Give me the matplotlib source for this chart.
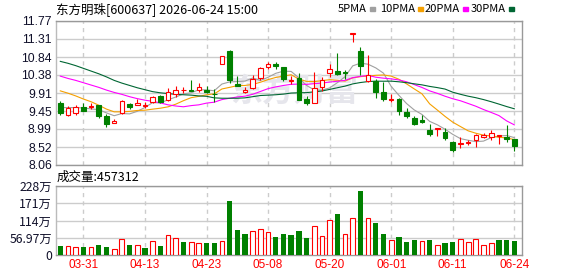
import matplotlib
matplotlib.use('Agg')
import matplotlib.pyplot as plt
import numpy as np

# ---- data (price in yuan, volume in 万) ----
opens = [9.66, 9.35, 9.40, 9.545, 9.56, 9.595, 9.33, 9.13, 9.39, 9.63,
         9.61, 9.59, 9.68, 9.84, 9.74, 9.88, 9.98, 9.997, 10.005, 9.997,
         9.90, 10.66, 11.00, 10.14, 9.937, 10.047, 10.30, 10.585, 10.66, 10.58,
         10.218, 10.30, 9.75, 9.663, 10.064, 10.42, 10.49, 10.465, 11.43, 11.00,
         10.226, 10.235, 9.937, 9.73, 9.766, 9.425, 9.26, 9.22, 8.964, 8.99,
         8.904, 8.657, 8.59, 8.62, 8.70, 8.79, 8.785, 8.80, 8.79, 8.725]
highs = [9.72, 9.58, 9.595, 9.67, 9.65, 9.61, 9.37, 9.24, 9.73, 9.67,
         9.75, 9.69, 9.83, 9.86, 10.05, 10.09, 10.065, 10.26, 10.16, 10.09,
         10.03, 10.875, 11.01, 10.36, 10.07, 10.37, 10.59, 10.71, 10.71, 10.58,
         10.345, 10.43, 9.85, 10.457, 10.33, 10.67, 10.94, 10.52, 11.455, 11.11,
         10.89, 10.28, 10.19, 9.90, 9.78, 9.52, 9.32, 9.35, 9.126, 9.007,
         9.024, 8.68, 8.77, 8.71, 8.87, 8.88, 8.97, 8.835, 9.084, 8.73]
lows = [9.36, 9.31, 9.34, 9.44, 9.51, 9.27, 9.04, 9.13, 9.37, 9.51,
        9.595, 9.53, 9.67, 9.665, 9.72, 9.82, 9.92, 9.96, 9.95, 9.92,
        9.68, 10.66, 10.175, 10.09, 9.92, 10.03, 10.26, 10.53, 10.53, 10.22,
        10.15, 9.73, 9.595, 9.663, 9.97, 10.33, 10.37, 10.27, 11.23, 10.37,
        10.21, 9.78, 9.70, 9.68, 9.36, 9.27, 9.085, 9.14, 8.81, 8.81,
        8.71, 8.40, 8.49, 8.57, 8.53, 8.76, 8.71, 8.59, 8.657, 8.43]
closes = [9.41, 9.535, 9.55, 9.44, 9.59, 9.32, 9.11, 9.19, 9.72, 9.545,
          9.65, 9.605, 9.82, 9.68, 9.945, 10.005, 10.005, 9.97, 10.06, 9.94,
          9.885, 10.875, 10.24, 10.107, 10.005, 10.277, 10.56, 10.65, 10.62, 10.28,
          10.243, 9.74, 9.663, 10.047, 10.25, 10.53, 10.41, 10.43, 11.45, 10.60,
          10.39, 9.937, 9.75, 9.75, 9.45, 9.33, 9.11, 9.17, 8.86, 9.007,
          8.76, 8.45, 8.62, 8.65, 8.83, 8.83, 8.895, 8.83, 8.717, 8.555]
volumes = [29.6, 29.6, 25.2, 26.3, 26.3, 32.9, 26.3, 19.7, 51.5, 32.9,
           31.8, 24.1, 46.0, 29.6, 64.6, 55.9, 43.8, 42.7, 39.4, 40.5,
           40.5, 46.0, 178.6, 82.2, 70.1, 77.8, 84.4, 75.6, 59.2, 70.1,
           65.7, 78.9, 57.0, 95.3, 62.5, 115.0, 135.9, 69.0, 123.8, 210.4,
           121.6, 106.3, 70.1, 49.3, 59.2, 43.8, 49.3, 46.0, 49.3, 31.8,
           39.4, 43.8, 51.5, 42.7, 51.5, 31.8, 39.4, 49.3, 49.3, 46.0]
vol_up = [0, 1, 1, 0, 1, 0, 0, 1, 1, 0, 1, 0, 1, 0, 1, 1, 0, 1, 1, 0,
          0, 1, 0, 0, 0, 1, 1, 1, 0, 0, 0, 0, 0, 1, 1, 1, 0, 1, 1, 0,
          1, 0, 0, 1, 0, 0, 0, 1, 0, 1, 0, 0, 1, 1, 1, 1, 1, 0, 0, 0]

# moving-average values at the left edge (history not on the chart)
ma5_head = [9.54, 9.54, 9.54, 9.53]
ma10_head = [9.97, 9.91, 9.84, 9.76, 9.69, 9.60, 9.50, 9.43, 9.43]
ma20_head = [10.35, 10.29, 10.24, 10.18, 10.12, 10.06, 9.99, 9.93, 9.88, 9.82,
             9.77, 9.73, 9.70, 9.66, 9.61, 9.58, 9.56, 9.59, 9.61]
ma30_head = [10.73, 10.68, 10.62, 10.55, 10.48, 10.41, 10.33, 10.24, 10.17, 10.11,
             10.05, 10.00, 9.95, 9.92, 9.90, 9.88, 9.87, 9.86, 9.84, 9.83,
             9.79, 9.78, 9.78, 9.78, 9.79, 9.82, 9.85, 9.86, 9.87]

tick_idx = [3, 11, 19, 27, 35, 43, 51, 59]
tick_labels = ['03-31', '04-13', '04-23', '05-08', '05-20', '06-01', '06-11', '06-24']
price_ticks = [8.06, 8.52, 8.99, 9.45, 9.91, 10.38, 10.84, 11.31, 11.77]
vol_ticks = [0, 56.97, 113.94, 170.91, 227.88]
vol_tick_labels = ['0', '56.97万', '114万', '171万', '228万']

RED = '#ff0000'
GREEN = '#008000'
CJK = ['Noto Sans CJK SC', 'DejaVu Sans']
NUM = ['Liberation Sans', 'DejaVu Sans']


def moving_avg(head, n):
    vals = list(head)
    for i in range(len(head), len(closes)):
        vals.append(np.mean(closes[i - n + 1:i + 1]))
    return vals


ma5 = moving_avg(ma5_head, 5)
ma10 = moving_avg(ma10_head, 10)
ma20 = moving_avg(ma20_head, 20)
ma30 = moving_avg(ma30_head, 30)

W, H = 578, 276
fig = plt.figure(figsize=(W / 100, H / 100), dpi=100)
ax = fig.add_axes([56 / W, 1 - 165 / H, 466 / W, 144 / H])
axv = fig.add_axes([56 / W, 1 - 255 / H, 466 / W, 69 / H])

x = np.arange(len(closes))
xlim = (-0.56, len(closes))

# ---- price panel ----
ax.text(0.51, 0.5, '东方财富', transform=ax.transAxes, ha='center', va='center',
        fontsize=23, fontweight='bold', color='#e6e6ec', family=CJK, zorder=1)

for i in x:
    o, h, l, c = opens[i], highs[i], lows[i], closes[i]
    up = c >= o
    col = RED if up else GREEN
    top, bot = max(o, c), min(o, c)
    ax.vlines(i, top, h, color=col, lw=0.8, zorder=3)
    ax.vlines(i, l, bot, color=col, lw=0.8, zorder=3)
    ht = max(top - bot, 0.012)
    if up:
        ax.bar(i, ht, bottom=bot, width=0.6, facecolor='white', edgecolor=col,
               linewidth=0.8, zorder=4)
    else:
        ax.bar(i, ht, bottom=bot, width=0.6, facecolor=col, edgecolor=col,
               linewidth=0.8, zorder=4)

ax.plot(x, ma5, color='#a0a0a0', lw=0.8, zorder=2)
ax.plot(x, ma10, color='#f5a000', lw=0.8, zorder=2)
ax.plot(x, ma20, color='#ff00ff', lw=0.8, zorder=2)
ax.plot(x, ma30, color='#006633', lw=0.8, zorder=2)

ax.set_xlim(*xlim)
ax.set_ylim(8.06, 11.77)
ax.set_yticks(price_ticks)
ax.set_yticklabels(['%.2f' % v for v in price_ticks], family=NUM, fontsize=8.8, color='#10102a')
ax.set_xticks(tick_idx)
ax.set_xticklabels([])

# ---- volume panel ----
for i in x:
    if vol_up[i]:
        axv.bar(i, volumes[i], width=0.62, facecolor='white', edgecolor=RED,
                linewidth=0.8, zorder=3)
    else:
        axv.bar(i, volumes[i], width=0.7, color=GREEN, zorder=3)
axv.set_xlim(*xlim)
axv.set_ylim(0, 227.88)
axv.set_yticks(vol_ticks)
axv.set_yticklabels(vol_tick_labels, family=CJK, fontsize=8.8, color='#10102a')
axv.set_xticks(tick_idx)
axv.set_xticklabels(tick_labels, family=NUM, fontsize=8.5, color=RED)

for a in (ax, axv):
    a.tick_params(length=0, pad=3)
    a.grid(axis='y', color='#cccccc', lw=1, ls='-', zorder=0)
    a.grid(axis='x', color='#cccccc', lw=1, ls=(0, (3, 3)), zorder=0)
    a.set_axisbelow(True)
    for s in a.spines.values():
        s.set_color('#999999')
        s.set_linewidth(1)
    a.spines['left'].set_color('#bbbbbb')

# ---- header texts ----
fig.text(56 / W, 1 - 9 / H, '东方明珠[600637] 2026-06-24 15:00', family=CJK,
         fontsize=9, va='center', ha='left', color='black')
fig.text(57 / W, 1 - 177 / H, '成交量:457312', family=CJK,
         fontsize=9, va='center', ha='left', color='black')

legend_items = [('5PMA', '#a0a0a0', 338), ('10PMA', '#f5a000', 380),
                ('20PMA', '#ff00ff', 425), ('30PMA', '#006633', 471)]
for name, col, px in legend_items:
    t = fig.text(px / W, 1 - 9 / H, name, family=CJK, fontsize=8,
                 va='center', ha='left', color='black')
    fig.canvas.draw()
    bb = t.get_window_extent()
    fig.patches.append(plt.Rectangle(((bb.x1 + 3) / W, 1 - 10.5 / H), 5 / W, 3 / H,
                                     transform=fig.transFigure, color=col))

fig.savefig('out.png', dpi=100)
